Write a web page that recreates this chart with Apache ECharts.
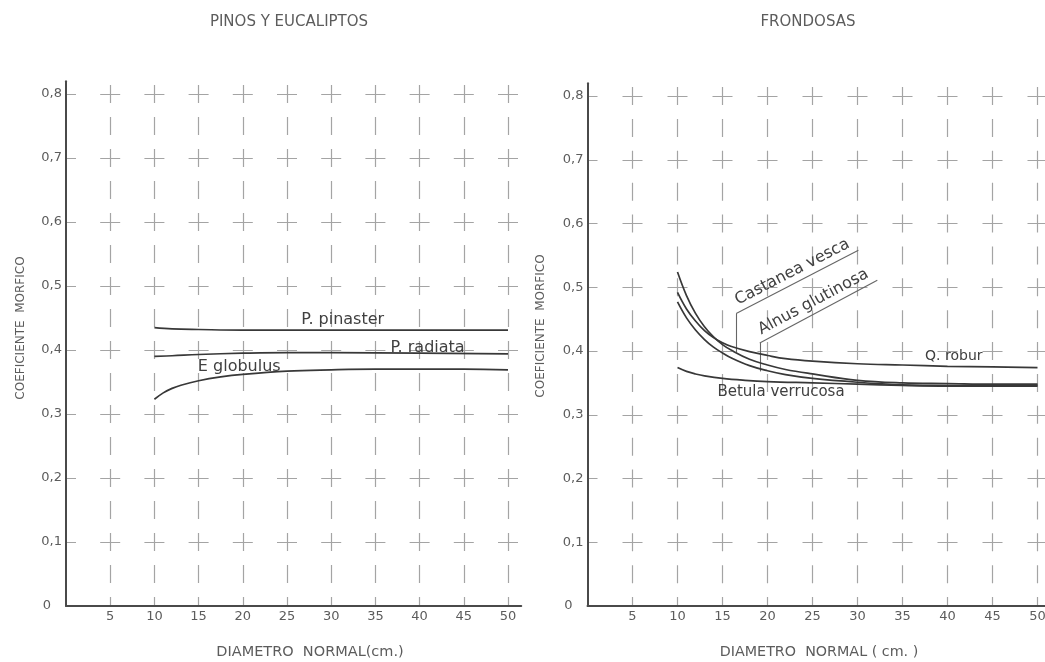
<!DOCTYPE html>
<html>
<head>
<meta charset="utf-8">
<script src="https://cdn.jsdelivr.net/npm/echarts@6.0.0/dist/echarts.min.js"></script>
<style>
html,body{margin:0;padding:0;background:#fff;}
#chart{width:1045px;height:662px;}
</style>
</head>
<body>
<div id="chart"></div>
<script>
// ---------- tick labels ----------
const xTicks = [5, 10, 15, 20, 25, 30, 35, 40, 45, 50];
const yTicks = [0, 0.1, 0.2, 0.3, 0.4, 0.5, 0.6, 0.7, 0.8];
const yTickLabels = ['0', '0,1', '0,2', '0,3', '0,4', '0,5', '0,6', '0,7', '0,8'];

// ---------- left panel: PINOS Y EUCALIPTOS ----------
const pinasterX = [10, 12, 15, 20, 30, 40, 50];
const pinasterY = [0.435, 0.433, 0.432, 0.431, 0.431, 0.431, 0.431];
const radiataX = [10, 12, 15, 20, 25, 30, 40, 50];
const radiataY = [0.390, 0.391, 0.393, 0.395, 0.396, 0.396, 0.395, 0.394];
const globulusX = [10, 11, 12, 13, 15, 17.5, 20, 25, 30, 35, 40, 45, 50];
const globulusY = [0.323, 0.333, 0.340, 0.345, 0.352, 0.358, 0.362, 0.367, 0.369, 0.370, 0.370, 0.370, 0.369];

// ---------- right panel: FRONDOSAS ----------
const hardX = [10, 11, 12, 13, 14, 15, 16, 18, 20, 22, 25, 30, 35, 40, 45, 50];
const roburY = [0.492, 0.466, 0.447, 0.432, 0.421, 0.413, 0.407, 0.399, 0.393, 0.388, 0.384, 0.380, 0.378, 0.376, 0.375, 0.374];
const castaneaY = [0.524, 0.487, 0.459, 0.438, 0.422, 0.410, 0.401, 0.387, 0.378, 0.371, 0.364, 0.354, 0.350, 0.349, 0.348, 0.348];
const alnusY = [0.477, 0.452, 0.433, 0.418, 0.406, 0.397, 0.389, 0.377, 0.369, 0.363, 0.357, 0.351, 0.347, 0.346, 0.346, 0.346];
const betulaX = [10, 11, 12, 13, 15, 17.5, 20, 25, 30, 35, 40, 45, 50];
const betulaY = [0.374, 0.368, 0.364, 0.361, 0.357, 0.354, 0.352, 0.350, 0.348, 0.346, 0.345, 0.345, 0.345];

// ---------- texts ----------
const panelTitles = ['PINOS Y EUCALIPTOS', 'FRONDOSAS'];
const yName = 'COEFICIENTE  MORFICO';
const xNames = ['DIAMETRO  NORMAL(cm.)', 'DIAMETRO  NORMAL ( cm. )'];

// ---------- helpers ----------
const zip = (xs, ys) => xs.map((x, i) => [x, ys[i]]);
const FONT = "'DejaVu Sans', 'Liberation Sans', sans-serif";
const TXT = '#5c5c5c';
const LINE = '#383838';
const GRIDC = '#a4a4a4';

function xLabel(v) {
  const i = xTicks.findIndex(t => Math.abs(t - v) < 1e-6);
  return i >= 0 ? String(xTicks[i]) : '';
}
function yLabel(v) {
  const i = yTicks.findIndex(t => Math.abs(t - v) < 1e-6);
  if (i < 0) return '';
  return i === 0 ? '{z|' + yTickLabels[i] + '}' : yTickLabels[i];
}

function makeX(gridIndex, max, dashGap) {
  return {
    type: 'value', gridIndex: gridIndex, min: 0, max: max, interval: 5,
    axisLine: { show: true, onZero: false, lineStyle: { color: '#4a4a4a', width: 2 } },
    axisTick: { show: false },
    axisLabel: { formatter: xLabel, color: TXT, fontFamily: FONT, fontSize: 13, margin: 4 },
    splitLine: {
      show: true, showMinLine: false, showMaxLine: false,
      lineStyle: { color: GRIDC, width: 1.2, type: dashGap.v, dashOffset: dashGap.vo }
    }
  };
}
function makeY(gridIndex, dashGap) {
  return {
    type: 'value', gridIndex: gridIndex, min: 0, max: 0.82, interval: 0.1,
    axisLine: { show: true, onZero: false, lineStyle: { color: '#4a4a4a', width: 2 } },
    axisTick: { show: false },
    axisLabel: {
      formatter: yLabel, color: TXT, fontFamily: FONT, fontSize: 13, margin: 4,
      rich: { z: { padding: [0, 11, 0, 0], color: TXT, fontFamily: FONT, fontSize: 13 } }
    },
    splitLine: {
      show: true, showMinLine: false, showMaxLine: false,
      lineStyle: { color: GRIDC, width: 1.2, type: dashGap.h, dashOffset: dashGap.ho }
    }
  };
}

function curve(name, xi, data) {
  return {
    name: name, type: 'line', xAxisIndex: xi, yAxisIndex: xi,
    data: data, showSymbol: false, symbol: 'none', smooth: 0.4,
    lineStyle: { color: LINE, width: 1.7 }, silent: true, z: 5
  };
}
function tag(text, coord, size) {
  return {
    symbol: 'circle', symbolSize: 1, silent: true,
    itemStyle: { color: 'rgba(0,0,0,0)' },
    label: { show: true, position: 'inside', formatter: text, color: '#404040', fontFamily: FONT, fontSize: size || 14 },
    data: [{ coord: coord }]
  };
}
function leader(text, foot, knee, end) {
  return {
    symbol: ['none', 'none'], silent: true, animation: false,
    lineStyle: { color: '#666', width: 1.1, type: 'solid' },
    label: { show: false },
    emphasis: { disabled: true },
    data: [
      [{ coord: foot }, { coord: knee }],
      [{ coord: knee }, { coord: end, label: { show: true, position: 'insideMiddleTop', formatter: text, color: '#404040', fontFamily: FONT, fontSize: 16, distance: 3 } }]
    ]
  };
}

const sPinaster = curve('P. pinaster', 0, zip(pinasterX, pinasterY));
sPinaster.markPoint = tag('P. pinaster', [31.3, 0.447], 16);
const sRadiata = curve('P. radiata', 0, zip(radiataX, radiataY));
sRadiata.markPoint = tag('P. radiata', [40.9, 0.403], 16);
const sGlobulus = curve('E globulus', 0, zip(globulusX, globulusY));
sGlobulus.markPoint = tag('E globulus', [19.6, 0.373], 16);

const sRobur = curve('Q. robur', 1, zip(hardX, roburY));
sRobur.markPoint = tag('Q. robur', [40.7, 0.391], 14);
const sCastanea = curve('Castanea vesca', 1, zip(hardX, castaneaY));
sCastanea.markLine = leader('Castanea vesca', [16.52, 0.398], [16.52, 0.459], [30.1, 0.558]);
const sAlnus = curve('Alnus glutinosa', 1, zip(hardX, alnusY));
sAlnus.markLine = leader('Alnus glutinosa', [19.14, 0.368], [19.14, 0.4125], [32.2, 0.511]);
const sBetula = curve('Betula verrucosa', 1, zip(betulaX, betulaY));
sBetula.markPoint = tag('Betula verrucosa', [21.5, 0.336], 15);

const chart = echarts.init(document.getElementById('chart'), null, { renderer: 'canvas' });
chart.setOption({
  animation: false,
  backgroundColor: '#ffffff',
  textStyle: { fontFamily: FONT },
  grid: [
    { left: 66, top: 81.2, width: 455.26, height: 524.8, containLabel: false, outerBoundsMode: 'none' },
    { left: 587.5, top: 83.25, width: 459, height: 522.75, containLabel: false, outerBoundsMode: 'none' }
  ],
  xAxis: [
    makeX(0, 51.5, { v: [18, 14], vo: 28.2 }),
    makeX(1, 51, { v: [18, 13.875], vo: 28.125 })
  ],
  yAxis: [
    makeY(0, { h: [20, 24.2], ho: 10 }),
    makeY(1, { h: [20, 25], ho: 10 })
  ],
  graphic: [
    { type: 'text', x: 289, y: 22, silent: true,
      style: { text: panelTitles[0], fill: TXT, font: '15px ' + FONT, textAlign: 'center', textVerticalAlign: 'middle' } },
    { type: 'text', x: 808, y: 22, silent: true,
      style: { text: panelTitles[1], fill: TXT, font: '15px ' + FONT, textAlign: 'center', textVerticalAlign: 'middle' } },
    { type: 'text', x: 21, y: 328, rotation: Math.PI / 2, silent: true,
      style: { text: yName, fill: TXT, font: '12px ' + FONT, textAlign: 'center', textVerticalAlign: 'middle' } },
    { type: 'text', x: 541, y: 326, rotation: Math.PI / 2, silent: true,
      style: { text: yName, fill: TXT, font: '12px ' + FONT, textAlign: 'center', textVerticalAlign: 'middle' } },
    { type: 'text', x: 310, y: 652, silent: true,
      style: { text: xNames[0], fill: TXT, font: '14.5px ' + FONT, textAlign: 'center', textVerticalAlign: 'middle' } },
    { type: 'text', x: 819, y: 652, silent: true,
      style: { text: xNames[1], fill: TXT, font: '14.3px ' + FONT, textAlign: 'center', textVerticalAlign: 'middle' } }
  ],
  series: [sPinaster, sRadiata, sGlobulus, sRobur, sCastanea, sAlnus, sBetula]
});
</script>
</body>
</html>
